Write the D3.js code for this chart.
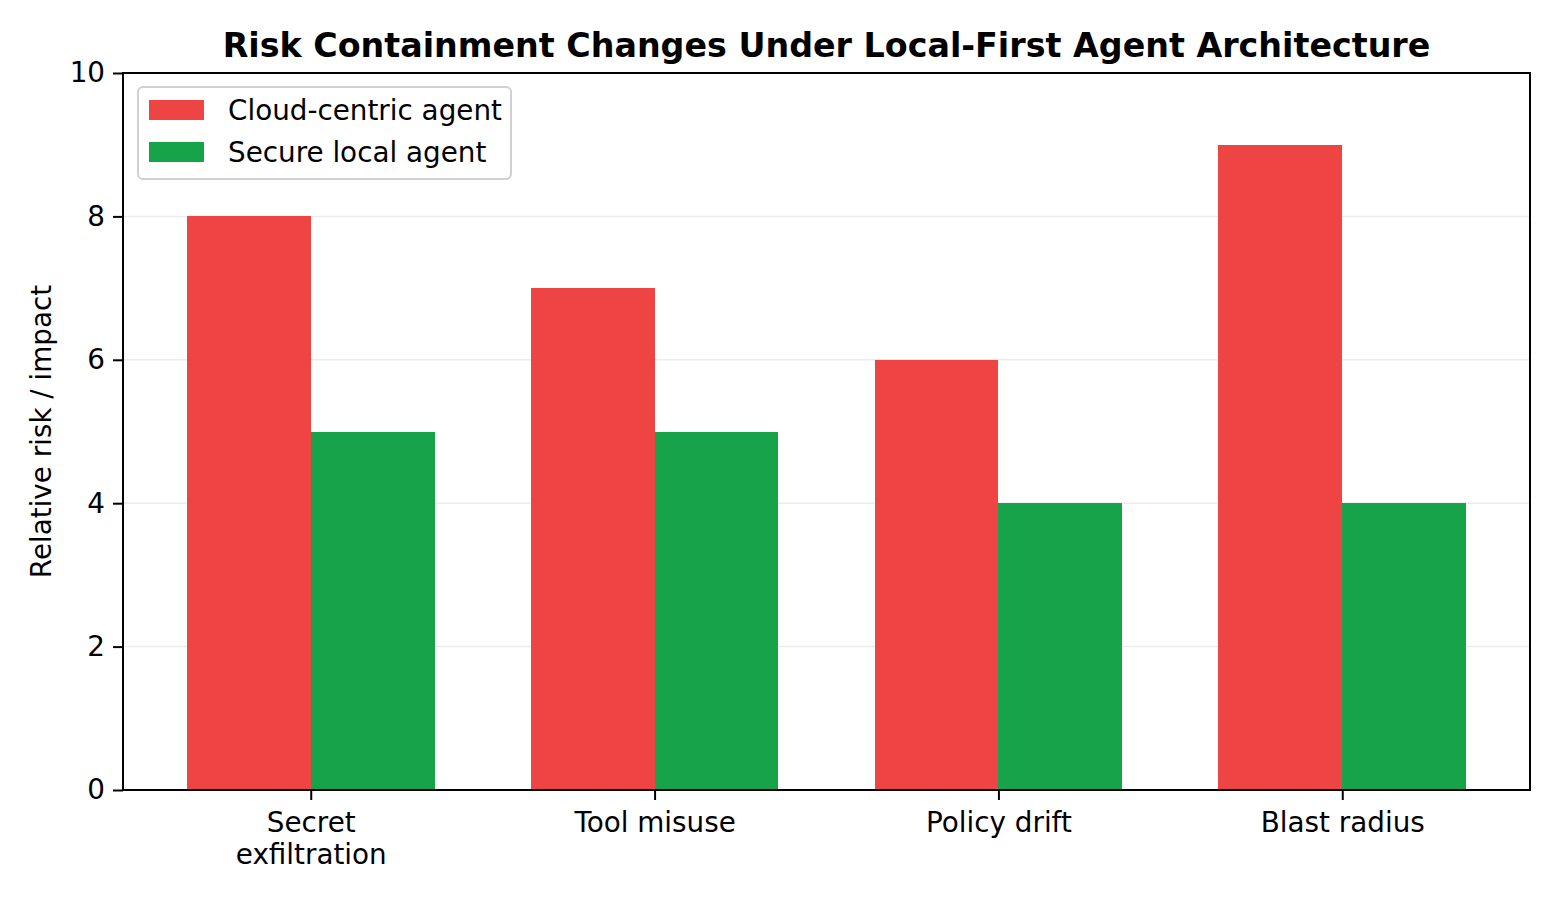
<!DOCTYPE html>
<html>
<head>
<meta charset="utf-8">
<script src="https://cdn.jsdelivr.net/npm/d3@7"></script>
<style>
  body { margin: 0; background: #fff; }
  svg, svg text { font-family: "DejaVu Sans", sans-serif; }
</style>
</head>
<body>
<svg id="chart"></svg>
<script>
const categories = ['Secret\nexfiltration', 'Tool misuse', 'Policy drift', 'Blast radius'];
const cloudRisk = [8, 7, 6, 9];
const localRisk = [5, 5, 4, 4];
const seriesNames = ['Cloud-centric agent', 'Secure local agent'];
const yTicks = [0, 2, 4, 6, 8, 10];

const width = 1560, height = 900;
const margin = { top: 73, right: 30, bottom: 110, left: 123 };
const colors = ['#ef4444', '#16a34a'];
const barW = 0.36;
const fs = 27.8;

const svg = d3.select('#chart')
  .attr('width', width)
  .attr('height', height);

const x = d3.scaleLinear()
  .domain([-0.546, categories.length - 1 + 0.546])
  .range([margin.left, width - margin.right]);
const y = d3.scaleLinear()
  .domain([0, 10])
  .range([height - margin.bottom, margin.top]);

// faint grid
svg.append('g')
  .selectAll('line')
  .data(yTicks)
  .join('line')
    .attr('x1', margin.left).attr('x2', width - margin.right)
    .attr('y1', d => y(d)).attr('y2', d => y(d))
    .attr('stroke', '#ececec')
    .attr('stroke-width', 1.5);

const series = [cloudRisk, localRisk];
series.forEach((vals, s) => {
  svg.append('g')
    .attr('shape-rendering', 'crispEdges')
    .selectAll('rect')
    .data(vals)
    .join('rect')
      .attr('x', (d, i) => x(s === 0 ? i - barW : i))
      .attr('width', x(barW) - x(0))
      .attr('y', d => y(d))
      .attr('height', d => y(0) - y(d))
      .attr('fill', colors[s]);
});

// frame
svg.append('rect')
  .attr('x', margin.left).attr('y', margin.top)
  .attr('width', width - margin.right - margin.left)
  .attr('height', height - margin.bottom - margin.top)
  .attr('fill', 'none')
  .attr('stroke', '#000')
  .attr('stroke-width', 2);

const xAxis = d3.axisBottom(x)
  .tickValues(d3.range(categories.length))
  .tickSize(10)
  .tickFormat(() => '');
const gx = svg.append('g')
  .attr('transform', `translate(0,${height - margin.bottom})`)
  .attr('font-family', 'DejaVu Sans')
  .call(xAxis);
gx.select('.domain').remove();
gx.selectAll('.tick line').attr('stroke-width', 2);
gx.selectAll('.tick text').remove();
gx.selectAll('.tick')
  .append('text')
    .attr('fill', '#000')
    .attr('text-anchor', 'middle')
    .attr('font-size', fs)
    .attr('font-family', 'DejaVu Sans')
    .selectAll('tspan')
    .data(i => categories[i].split('\n'))
    .join('tspan')
      .attr('x', 0)
      .attr('y', (d, j) => 42 + j * 32)
      .text(d => d);

const yAxis = d3.axisLeft(y)
  .tickValues(yTicks)
  .tickSize(10)
  .tickPadding(8);
const gy = svg.append('g')
  .attr('transform', `translate(${margin.left},0)`)
  .call(yAxis);
gy.select('.domain').remove();
gy.selectAll('.tick line').attr('stroke-width', 2);
gy.selectAll('.tick text')
  .attr('font-size', fs)
  .attr('font-family', 'DejaVu Sans')
  .attr('fill', '#000');

svg.append('text')
  .attr('transform', `translate(51,${(margin.top + height - margin.bottom) / 2}) rotate(-90)`)
  .attr('text-anchor', 'middle')
  .attr('font-size', fs)
  .text('Relative risk / impact');

svg.append('text')
  .attr('x', (margin.left + width - margin.right) / 2)
  .attr('y', 57)
  .attr('text-anchor', 'middle')
  .attr('font-size', 33.3)
  .attr('font-weight', 'bold')
  .text('Risk Containment Changes Under Local-First Agent Architecture');

// legend
const legend = svg.append('g').attr('transform', 'translate(138,87)');
legend.append('rect')
  .attr('width', 373).attr('height', 92)
  .attr('rx', 5)
  .attr('fill', '#fff').attr('fill-opacity', 0.8)
  .attr('stroke', '#d0d0d0').attr('stroke-width', 2);
seriesNames.forEach((name, s) => {
  legend.append('rect')
    .attr('x', 11).attr('y', 13 + s * 42)
    .attr('width', 55).attr('height', 20)
    .attr('fill', colors[s]);
  legend.append('text')
    .attr('x', 90).attr('y', 33 + s * 42)
    .attr('font-size', fs)
    .text(name);
});
</script>
</body>
</html>
